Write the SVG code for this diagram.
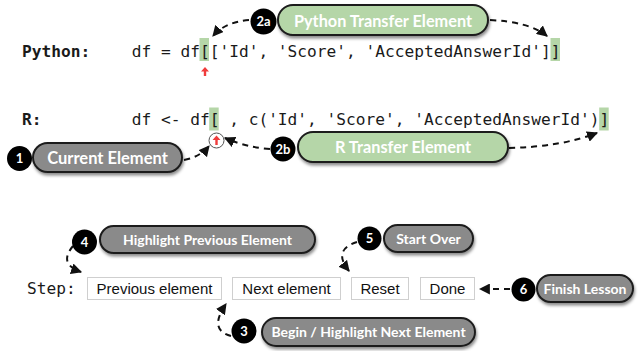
<svg xmlns="http://www.w3.org/2000/svg" width="639" height="351" viewBox="0 0 639 351">
<style>
.code{font-family:"DejaVu Sans Mono","Liberation Mono",monospace;font-size:16.2px;fill:#1a1a1a}
.lbl{font-family:"DejaVu Sans Mono","Liberation Mono",monospace;font-size:16.2px;fill:#1a1a1a;font-weight:bold}
.hl{fill:#b5d6a8}
.pill{stroke:#1c1c1c;stroke-width:2;filter:url(#sh)}
.gray{fill:#8a8a8a}
.green{fill:#b5d6a8}
.pt{font-family:Lato,"Open Sans",sans-serif;font-weight:bold;fill:#fff;text-anchor:middle}
.badge{fill:#000}
.bt{font-family:Lato,"Open Sans",sans-serif;font-weight:bold;fill:#fff;font-size:13px;text-anchor:middle}
.btn{fill:#fff;stroke:#cfcfcf;stroke-width:1}
.btt{font-family:"Liberation Sans",Arial,sans-serif;font-size:15px;fill:#111;text-anchor:middle}
.con{fill:none;stroke:#111;stroke-width:2;stroke-dasharray:6,5;marker-end:url(#ah)}
.red{fill:#f03c3c}
</style>
<defs>
<filter id="sh" x="-10%" y="-30%" width="120%" height="170%">
<feDropShadow dx="1" dy="2.5" stdDeviation="1.5" flood-color="#000" flood-opacity="0.45"/>
</filter>
<marker id="ah" viewBox="0 0 10 10" refX="9" refY="5" markerWidth="5.5" markerHeight="5.5" orient="auto" markerUnits="strokeWidth">
<path d="M0,0 L10,5 L0,10 z" fill="#111"/>
</marker>
</defs>

<g id="code-python">
<rect class="hl" x="199.5" y="38" width="9.5" height="23"/>
<rect class="hl" x="550.5" y="38" width="9.5" height="23"/>
<text class="lbl" x="22" y="57">Python:</text>
<text class="code" x="131.7" y="57" xml:space="preserve">df = df[['Id', 'Score', 'AcceptedAnswerId']]</text>
<path class="red" d="M205,67 L209,71.5 L206.2,71.5 L206.2,76 L203.8,76 L203.8,71.5 L201,71.5 z"/>
</g>

<g id="code-r">
<rect class="hl" x="209.2" y="107.5" width="9.5" height="23"/>
<rect class="hl" x="599.2" y="107.5" width="9.5" height="23"/>
<text class="lbl" x="22" y="125">R:</text>
<text class="code" x="131.7" y="125" xml:space="preserve">df &lt;- df[ , c('Id', 'Score', 'AcceptedAnswerId')]</text>
<circle cx="216.5" cy="140.5" r="7.5" fill="#fff" stroke="#555" stroke-width="1"/>
<path class="red" d="M216.5,135.5 L220.5,140 L217.7,140 L217.7,145 L215.3,145 L215.3,140 L212.5,140 z"/>
</g>

<g id="step-row">
<text class="code" x="27" y="294">Step:</text>
</g>

<g id="btn-prev"><rect class="btn" x="87.5" y="277.5" width="134" height="22"/><text class="btt" x="154.5" y="294">Previous element</text></g>
<g id="btn-next"><rect class="btn" x="232.5" y="277.5" width="108" height="22"/><text class="btt" x="286.5" y="294">Next element</text></g>
<g id="btn-reset"><rect class="btn" x="351.5" y="277.5" width="57" height="22"/><text class="btt" x="380" y="294">Reset</text></g>
<g id="btn-done"><rect class="btn" x="420.5" y="277.5" width="54" height="22"/><text class="btt" x="447.5" y="294">Done</text></g>

<g id="connectors">
<path class="con" d="M249,20 Q225,22 213,36"/>
<path class="con" d="M490,20 Q530,22 547,36"/>
<path class="con" d="M184,160 Q200,157 209,146"/>
<path class="con" d="M270,149 Q245,147 225,138"/>
<path class="con" d="M509,148 Q560,147 597,133"/>
<path class="con" d="M73,246 Q58,264 81,272"/>
<path class="con" d="M357,242 Q332,250 349,271"/>
<path class="con" d="M510,289 L480,289"/>
<path class="con" d="M231,336 Q208,330 226,304"/>
</g>

<g id="node-2a">
<rect class="pill green" x="278" y="5" width="210" height="30" rx="15"/>
<text class="pt" x="383" y="26.5" font-size="16.3">Python Transfer Element</text>
<circle class="badge" cx="263.5" cy="21.5" r="13"/>
<text class="bt" x="263.5" y="26">2a</text>
</g>

<g id="node-1">
<rect class="pill gray" x="33" y="143" width="149" height="29" rx="14.5"/>
<text class="pt" x="107.5" y="163.5" font-size="16.5">Current Element</text>
<circle class="badge" cx="19.5" cy="158.5" r="12.5"/>
<text class="bt" x="19.5" y="163">1</text>
</g>

<g id="node-2b">
<rect class="pill green" x="298" y="132" width="210" height="30" rx="15"/>
<text class="pt" x="403" y="152.5" font-size="16.3">R Transfer Element</text>
<circle class="badge" cx="283" cy="149" r="12.5"/>
<text class="bt" x="283" y="153.5">2b</text>
</g>

<g id="node-4">
<rect class="pill gray" x="100" y="226" width="215" height="27" rx="13.5"/>
<text class="pt" x="207.5" y="244.5" font-size="14">Highlight Previous Element</text>
<circle class="badge" cx="84.5" cy="242" r="12.5"/>
<text class="bt" x="84.5" y="246.5">4</text>
</g>

<g id="node-5">
<rect class="pill gray" x="384" y="225" width="89" height="27" rx="13.5"/>
<text class="pt" x="428.5" y="243.5" font-size="14">Start Over</text>
<circle class="badge" cx="369.5" cy="238.5" r="12"/>
<text class="bt" x="369.5" y="243">5</text>
</g>

<g id="node-6">
<rect class="pill gray" x="537" y="275" width="96" height="27" rx="13.5"/>
<text class="pt" x="585" y="293.5" font-size="14">Finish Lesson</text>
<circle class="badge" cx="523.5" cy="289.5" r="12"/>
<text class="bt" x="523.5" y="294">6</text>
</g>

<g id="node-3">
<rect class="pill gray" x="262" y="318" width="213" height="28" rx="14"/>
<text class="pt" x="368.5" y="337" font-size="14">Begin / Highlight Next Element</text>
<circle class="badge" cx="244" cy="331" r="12.5"/>
<text class="bt" x="244" y="335.5">3</text>
</g>
</svg>
